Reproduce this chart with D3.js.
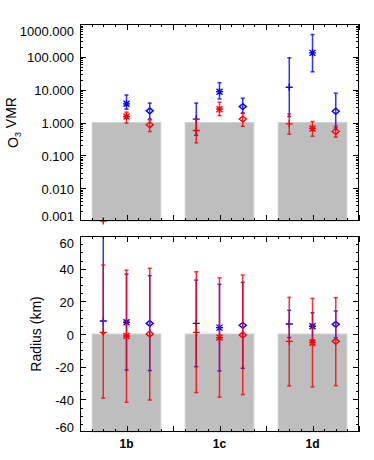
<!DOCTYPE html>
<html><head><meta charset="utf-8">
<script src="https://cdn.jsdelivr.net/npm/d3@7"></script>
<style>body{margin:0;background:#fff} svg{display:block}</style>
</head><body>
<svg id="c" width="374" height="460"></svg>
<script>
// ---------------- data ----------------
const categories = ["1b", "1c", "1d"];
const symbolKinds = ["plus", "asterisk", "diamond"];   // one per sub-position
const vmrTicks = [0.001, 0.01, 0.1, 1, 10, 100, 1000];
const vmrTickLabels = ["0.001", "0.010", "0.100", "1.000", "10.000", "100.000", "1000.000"];
const radTicks = [-60, -40, -20, 0, 20, 40, 60];
const radTickLabels = ["-60", "-40", "-20", "0", "20", "40", "60"];
const barVmr = [1, 1, 1];
const barRad = [0, 0, 0];

// O3 VMR (rows = categories, cols = plus / asterisk / diamond)
const blueVmr   = [[null, 3.7, 2.26], [1.27, 8.7, 3.05], [11.8, 132, 2.2]];
const blueVmrHi = [[null, 6.9, 3.9],  [3.9, 16.3, 5.5],  [93, 478, 7.8]];
const blueVmrLo = [[null, 2.55, 1.27],[0.41, 5.2, 1.93], [1.52, 35, 0.68]];
const redVmr    = [[0.001, 1.52, 0.85], [0.57, 2.55, 1.27], [0.91, 0.66, 0.53]];
const redVmrHi  = [[null, 2.07, 1.2],   [1.27, 4.15, 1.93], [1.83, 1.07, 0.79]];
const redVmrLo  = [[null, 0.96, 0.53],  [0.24, 1.63, 0.76], [0.44, 0.38, 0.36]];

// Radius (km)
const blueRad   = [[8, 7.2, 6.5],     [6.5, 3.9, 5.3],     [6.1, 4.7, 5.9]];
const blueRadHi = [[120, 36.7, 35.7], [33, 30.4, 31.6],    [14.5, 13, 14.1]];
const blueRadLo = [[0.4, -22, -22.4], [-20, -22.6, -21],   [-2.2, -3.7, -2.3]];
const redRad    = [[1.0, -1.2, 0],    [1.0, -2.2, -0.6],   [-4.5, -5.3, -4.5]];
const redRadHi  = [[42.2, 39.1, 40.2],[38.1, 34.4, 36.1],  [22.4, 21.8, 22.2]];
const redRadLo  = [[-39.3, -41.8, -40.4], [-35.9, -38.7, -37.1], [-31.8, -32.4, -31.6]];

// ---------------- layout ----------------
const svg = d3.select("#c");
const L = 80, R = 359;
const FONT = "'Liberation Sans', Arial, Helvetica, sans-serif";
const BLUE = "#0000ff", RED = "#ff0000";
const x = d3.scaleLinear().domain([0.5, 3.5]).range([L, R]);
const subOffsets = [-0.25, 0, 0.25];
const barWidth = 0.75;

function panel(cfg) {
  const { top, bottom, y, majors, minors, labels, bars, series, title, titleX, id } = cfg;
  const g = svg.append("g");
  g.append("clipPath").attr("id", id).append("rect")
    .attr("x", L).attr("y", top).attr("width", R - L).attr("height", bottom - top);

  // bars
  g.append("g").selectAll("rect").data(bars).join("rect")
    .attr("x", (d, i) => x(i + 1 - barWidth / 2) + 0.5)
    .attr("width", x(barWidth) - x(0) - 1)
    .attr("y", d => y(d))
    .attr("height", d => bottom - y(d))
    .attr("fill", "#bebebe")
    .attr("stroke", "#d2d2d2").attr("stroke-width", 1);

  // error bars + markers
  series.forEach(s => {
    const pts = [];
    s.v.forEach((row, i) => row.forEach((v, j) => {
      if (v == null) return;
      pts.push({ cx: x(i + 1 + subOffsets[j]), v, hi: s.hi[i][j], lo: s.lo[i][j], kind: symbolKinds[j] });
    }));
    const eg = g.append("g").attr("clip-path", `url(#${id})`)
      .attr("stroke", s.color).attr("stroke-opacity", 0.8).attr("stroke-width", 1.5);
    pts.filter(p => p.hi != null).forEach(p => {
      eg.append("line").attr("x1", p.cx).attr("x2", p.cx).attr("y1", y(p.lo)).attr("y2", y(p.hi));
      [p.lo, p.hi].forEach(e => eg.append("line")
        .attr("x1", p.cx - 2).attr("x2", p.cx + 2).attr("y1", y(e)).attr("y2", y(e)));
    });
    const mg = g.append("g").attr("stroke", s.color).attr("stroke-width", 1.4).attr("fill", "none");
    pts.forEach(p => {
      const cy = y(p.v), cx = p.cx;
      let d;
      if (p.kind === "plus") d = `M${cx - 3.5},${cy}H${cx + 3.5}M${cx},${cy - 3.5}V${cy + 3.5}`;
      else if (p.kind === "asterisk") d = `M${cx - 3.5},${cy}H${cx + 3.5}M${cx},${cy - 3.5}V${cy + 3.5}` +
        `M${cx - 3},${cy - 3}L${cx + 3},${cy + 3}M${cx - 3},${cy + 3}L${cx + 3},${cy - 3}`;
      else d = `M${cx - 3.5},${cy}L${cx},${cy - 3}L${cx + 3.5},${cy}L${cx},${cy + 3}Z`;
      mg.append("path").attr("d", d);
    });
  });

  // frame
  g.append("rect").attr("x", L + 0.5).attr("y", top + 0.5).attr("width", R - L - 1).attr("height", bottom - top - 1)
    .attr("fill", "none").attr("stroke", "#000").attr("stroke-width", 1);

  // ticks (inward, all four sides)
  const tg = g.append("g").attr("stroke", "#000").attr("stroke-width", 1);
  const yt = (v, len) => {
    const yy = Math.round(y(v)) + 0.5;
    if (yy < top || yy > bottom) return;
    tg.append("line").attr("x1", L).attr("x2", L + len).attr("y1", yy).attr("y2", yy);
    tg.append("line").attr("x1", R - len).attr("x2", R).attr("y1", yy).attr("y2", yy);
  };
  majors.forEach(v => yt(v, 6));
  minors.forEach(v => yt(v, 3));
  const xMaj = d3.range(0.5, 3.51, 0.5), xMin = d3.range(0.5, 3.51, 0.125);
  const xt = (v, len) => {
    const xx = Math.round(x(v)) + 0.5;
    tg.append("line").attr("x1", xx).attr("x2", xx).attr("y1", bottom - len).attr("y2", bottom);
    tg.append("line").attr("x1", xx).attr("x2", xx).attr("y1", top).attr("y2", top + len);
  };
  xMaj.forEach(v => xt(v, 6));
  xMin.forEach(v => xt(v, 3));

  // tick labels (end labels pushed inside the frame)
  g.append("g").selectAll("text").data(majors).join("text")
    .attr("x", L - 6)
    .attr("y", v => Math.max(top + 7, Math.min(bottom - 5, y(v) + 1)))
    .attr("dy", "0.35em").attr("text-anchor", "end")
    .attr("font-family", FONT).attr("font-size", 13).attr("fill", "#000")
    .text((v, i) => labels[i]);

  // title
  const t = g.append("text")
    .attr("transform", `translate(${titleX},${(top + bottom) / 2}) rotate(-90)`)
    .attr("text-anchor", "middle").attr("dy", "0.35em")
    .attr("font-family", FONT).attr("font-size", 14).attr("fill", "#000");
  title(t);
}

// ---- top panel ----
const yV = d3.scaleLog().domain([0.001, 1000]).range([221, 24]);
const vmrMinors = [];
vmrTicks.slice(0, -1).forEach(d => d3.range(2, 10).forEach(m => vmrMinors.push(d * m)));
panel({
  id: "clipTop", top: 24, bottom: 221, y: yV, majors: vmrTicks, minors: vmrMinors, labels: vmrTickLabels,
  bars: barVmr, titleX: 13,
  series: [
    { color: BLUE, v: blueVmr, hi: blueVmrHi, lo: blueVmrLo },
    { color: RED, v: redVmr, hi: redVmrHi, lo: redVmrLo }
  ],
  title: t => {
    t.append("tspan").text("O");
    t.append("tspan").attr("font-size", 9).attr("dy", "0.3em").text("3");
    t.append("tspan").attr("dy", "-0.3em").text(" VMR");
  }
});

// ---- bottom panel ----
const yR = d3.scaleLinear().domain([-60, 60]).range([432, 236]);
const radMinors = d3.range(-60, 60.1, 5).filter(v => v % 20 !== 0);
panel({
  id: "clipBot", top: 236, bottom: 432, y: yR, majors: radTicks, minors: radMinors, labels: radTickLabels,
  bars: barRad, titleX: 36.5,
  series: [
    { color: BLUE, v: blueRad, hi: blueRadHi, lo: blueRadLo },
    { color: RED, v: redRad, hi: redRadHi, lo: redRadLo }
  ],
  title: t => t.text("Radius (km)")
});

// category labels
svg.append("g").selectAll("text").data(categories).join("text")
  .attr("x", (d, i) => x(i + 1)).attr("y", 443.5).attr("dy", "0.35em")
  .attr("text-anchor", "middle").attr("font-family", FONT).attr("font-size", 12).attr("font-weight", "bold")
  .text(d => d);
</script>
</body></html>
